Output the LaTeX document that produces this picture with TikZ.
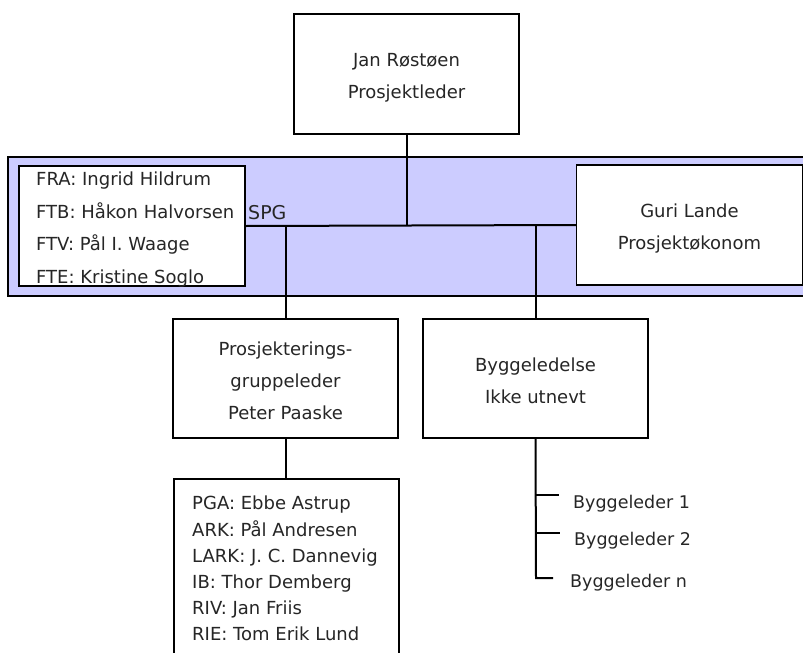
\documentclass[tikz,border=0pt]{standalone}
\usepackage{fontspec}
\setmainfont{DejaVu Sans}
\definecolor{bandblue}{HTML}{CCCCFF}
\begin{document}
\begin{tikzpicture}[x=1pt,y=-1pt,
  every node/.style={font=\fontsize{18}{32}\selectfont, text=black!85},
  box/.style={draw=black, line width=1.5pt, fill=white, rectangle, inner sep=0pt,
              minimum width=225, minimum height=120},
  txt/.style={align=center, inner sep=0pt},
  conn/.style={draw=black, line width=2pt},
  lbl/.style={inner sep=0pt, anchor=west, font=\fontsize{17.5}{20}\selectfont}]
\useasboundingbox (0,0) rectangle (803,653);
% SPG band
\fill[bandblue] (8,157) rectangle (806,296);
\draw[line width=1.3pt] (806,157) -- (8,157) -- (8,296) -- (806,296);
% boxes
\node[box] (pl) at (406.5,74) {};
\node[txt, yshift=-4pt] (pltxt) at (pl.center) {Jan Røstøen\\Prosjektleder};
\node[box, minimum width=226] (spg) at (132,226) {};
\node[anchor=north west, inner sep=0pt, align=left, font=\fontsize{18}{32.5}\selectfont] (spgtxt) at (36,172)
  {FRA: Ingrid Hildrum\\FTB: Håkon Halvorsen\\FTV: Pål I. Waage\\FTE: Kristine Soglo};
\node[inner sep=0pt, anchor=west, font=\fontsize{19}{20}\selectfont] (spglbl) at (248,213) {SPG};
\node[box, minimum width=226] (pk) at (689.5,225) {};
\node[txt, yshift=-4pt] (pktxt) at (pk.center) {Guri Lande\\Prosjektøkonom};
\node[box, minimum height=119] (pg) at (285.5,378.5) {};
\node[txt, yshift=-2pt] (pgtxt) at (pg.center) {Prosjekterings-\\gruppeleder\\Peter Paaske};
\node[box, minimum height=119] (bl) at (535.5,378.5) {};
\node[txt, yshift=-2pt] (bltxt) at (bl.center) {Byggeledelse\\Ikke utnevt};
\node[draw=black, line width=1.5pt, fill=white, rectangle, minimum width=225, minimum height=182,
      anchor=north, inner sep=0pt] (pga) at (286.5,478) {};
\node[anchor=north west, inner sep=0pt, align=left, font=\fontsize{18}{26.2}\selectfont] (pgatxt) at (192,496)
  {PGA: Ebbe Astrup\\ARK: Pål Andresen\\LARK: J. C. Dannevig\\IB: Thor Demberg\\RIV: Jan Friis\\RIE: Tom Erik Lund};
% connectors
\coordinate (jn) at (pl.south |- spg.east);
\draw[conn] (pl.south) -- (jn);
\draw[conn] (spg.east) -- (pk.west);
\draw[conn] (pg.north |- spg.east) -- (pg.north);
\draw[conn] (bl.north |- spg.east) -- (bl.north);
\draw[conn] (pg.south) -- (pga.north -| pg.south);
% Byggeleder branches
\node[lbl] (b1) at (573,504) {Byggeleder 1};
\node[lbl] (b2) at (574,541) {Byggeleder 2};
\node[lbl] (bn) at (570,583) {Byggeleder n};
\coordinate (bend) at (536,578);
\draw[conn] (bl.south) -- (bend) -- (553,578);
\draw[conn] (536,495) -- (559,495);
\draw[conn] (536,533) -- (560,533);
\end{tikzpicture}
\end{document}
